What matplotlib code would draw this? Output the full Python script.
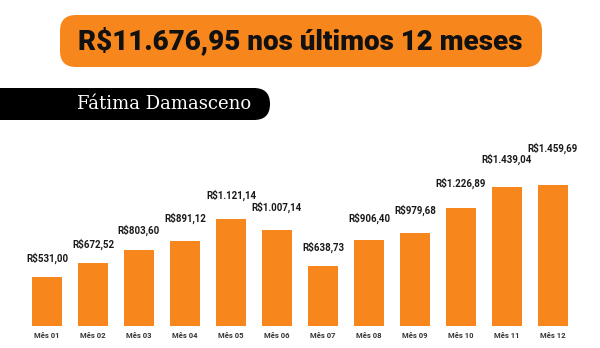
import matplotlib
matplotlib.use('Agg')
import matplotlib.pyplot as plt
from matplotlib.patches import FancyBboxPatch

MONTHS = ['Mês 01', 'Mês 02', 'Mês 03', 'Mês 04', 'Mês 05', 'Mês 06',
          'Mês 07', 'Mês 08', 'Mês 09', 'Mês 10', 'Mês 11', 'Mês 12']
VALUES = [531.00, 672.52, 803.60, 891.12, 1121.14, 1007.14,
          638.73, 906.40, 979.68, 1226.89, 1439.04, 1459.69]
LABELS = ['R$531,00', 'R$672,52', 'R$803,60', 'R$891,12', 'R$1.121,14', 'R$1.007,14',
          'R$638,73', 'R$906,40', 'R$979,68', 'R$1.226,89', 'R$1.439,04', 'R$1.459,69']
TITLE = 'R$11.676,95 nos últimos 12 meses'
NAME = 'Fátima Damasceno'

# gap (px) between bar top and the centre of its value label
LABEL_GAP = [19, 19, 20, 23, 23, 23, 19, 22, 22, 25, 28, 37]

ORANGE = '#F7861C'
W, H = 600, 348

fig = plt.figure(figsize=(6, 3.48), dpi=100)
fig.patch.set_facecolor('white')

# header overlay in pixel coordinates (y measured from bottom)
hdr = fig.add_axes([0, 0, 1, 1])
hdr.set_xlim(0, W)
hdr.set_ylim(0, H)
hdr.axis('off')

hdr.add_patch(FancyBboxPatch((60, H - 67), 482, 52,
                             boxstyle='round,pad=0,rounding_size=16',
                             fc=ORANGE, ec='none'))
hdr.text(300, H - 41, TITLE, ha='center', va='center', fontsize=20,
         fontweight='black', family='Roboto', color='#111111')

hdr.add_patch(FancyBboxPatch((-40, H - 120), 310, 32,
                             boxstyle='round,pad=0,rounding_size=16',
                             fc='black', ec='none'))
hdr.text(164, H - 104, NAME, ha='center', va='center', fontsize=13,
         family='DejaVu Serif', color='white')

# bar chart
ax = fig.add_axes([0, (H - 326) / H, 1, 196 / H])
x = list(range(len(VALUES)))
ax.bar(x, VALUES, width=0.65, color=ORANGE)
ax.set_xlim(-47 / 46, (W - 47) / 46)
ax.set_ylim(36, 2016)
ax.set_xticks(x)
ax.set_xticklabels(MONTHS, fontsize=5.5, fontweight='bold', family='Roboto',
                   color='#333333')
ax.tick_params(axis='x', length=0, pad=4.5)
ax.set_yticks([])
for s in ax.spines.values():
    s.set_visible(False)
ax.patch.set_alpha(0)

for xi, v, lab, gap in zip(x, VALUES, LABELS, LABEL_GAP):
    ax.annotate(lab, (xi, v), xytext=(0, gap * 0.72), textcoords='offset points',
                ha='center', va='center', fontsize=7, fontweight='bold',
                family='Roboto', color='#1a1a1a')

fig.savefig('out.png', dpi=100, facecolor='white')
